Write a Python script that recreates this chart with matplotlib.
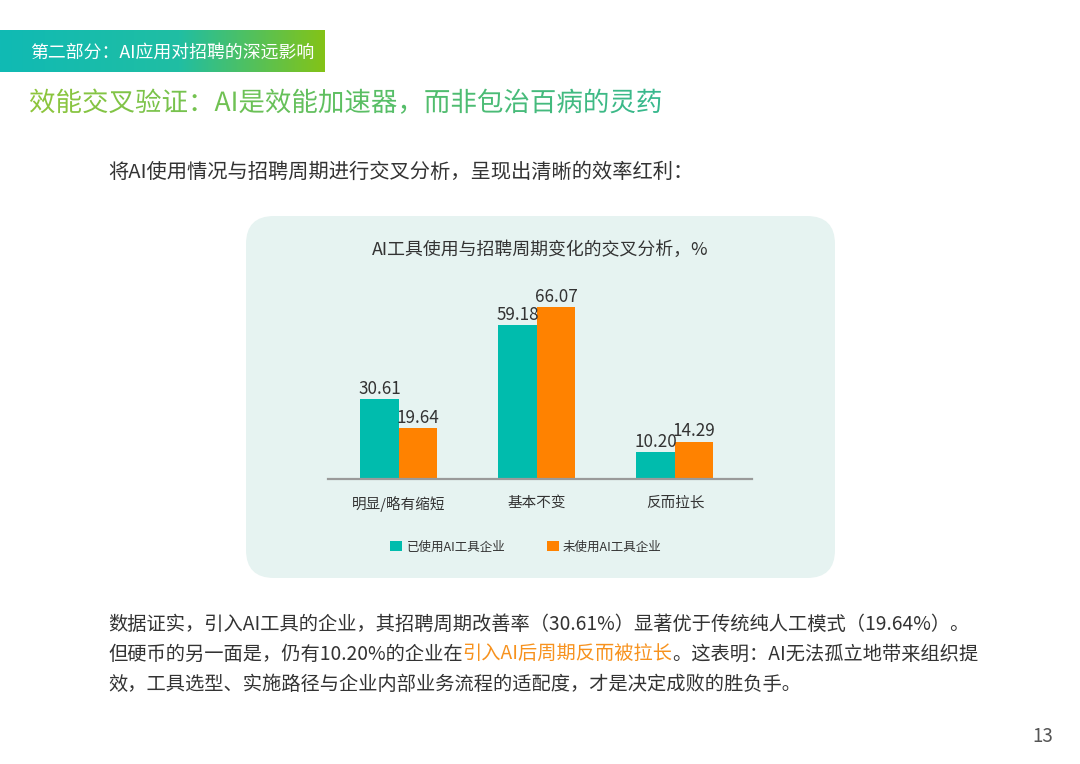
import numpy as np
import matplotlib
matplotlib.use('Agg')
import matplotlib.pyplot as plt
from matplotlib.colors import LinearSegmentedColormap
from matplotlib.patches import FancyBboxPatch, PathPatch, Patch
from matplotlib.textpath import TextPath
from matplotlib.font_manager import FontProperties
from matplotlib.transforms import Affine2D

plt.rcParams['font.family'] = ['Noto Sans CJK SC', 'DejaVu Sans']

# ---------- 数据 ----------
categories = ['明显/略有缩短', '基本不变', '反而拉长']
used_ai    = [30.61, 59.18, 10.20]
no_ai      = [19.64, 66.07, 14.29]
series     = ['已使用AI工具企业', '未使用AI工具企业']

section  = '第二部分：AI应用对招聘的深远影响'
heading  = '效能交叉验证：AI是效能加速器，而非包治百病的灵药'
intro    = '将AI使用情况与招聘周期进行交叉分析，呈现出清晰的效率红利：'
title    = 'AI工具使用与招聘周期变化的交叉分析，%'
line1    = '数据证实，引入AI工具的企业，其招聘周期改善率（30.61%）显著优于传统纯人工模式（19.64%）。'
line2    = ['但硬币的另一面是，仍有10.20%的企业在', '引入AI后周期反而被拉长', '。这表明：AI无法孤立地带来组织提']
line3    = '效，工具选型、实施路径与企业内部业务流程的适配度，才是决定成败的胜负手。'
page_no  = '13'

TEAL   = '#00bcad'
ORANGE = '#ff8200'
DARK   = '#333333'

fig = plt.figure(figsize=(10.8, 7.64), dpi=100)
fig.patch.set_facecolor('white')

# 背景层：像素坐标
bg = fig.add_axes([0, 0, 1, 1])
bg.set_axis_off()

# 卡片
panel = FancyBboxPatch((246, 216), 589, 362, boxstyle='round,pad=0,rounding_size=28',
                       facecolor='#e6f3f1', edgecolor='none', zorder=1)
bg.add_patch(panel)

# 顶部渐变条
bar_cmap = LinearSegmentedColormap.from_list(
    'hdr', [(0, '#10bab4'), (0.55, '#20bea3'), (1, '#84c317')])
grad = np.linspace(0, 1, 256).reshape(1, -1)
bg.imshow(grad, cmap=bar_cmap, extent=[0, 325, 72, 30], aspect='auto', zorder=2)
bg.text(30, 53, section, fontsize=12.9, color='white', va='center', ha='left', zorder=3)

# 渐变标题
fp = FontProperties(family='Noto Sans CJK SC')
tp = TextPath((0, 0), heading, size=26.5, prop=fp)
hpath = Affine2D().scale(1, -1).translate(29, 111).transform_path(tp)
hpatch = PathPatch(hpath, facecolor='none', edgecolor='none')
bg.add_patch(hpatch)
head_cmap = LinearSegmentedColormap.from_list('head', ['#8fc63c', '#5cbf62', '#36b88f'])
him = bg.imshow(grad, cmap=head_cmap, extent=[29, 668, 118, 85], aspect='auto', zorder=3)
him.set_clip_path(hpatch)

bg.text(108, 172, intro, fontsize=14.6, color=DARK, va='center', ha='left')

# 图表标题
bg.text(540, 250, title, fontsize=12.9, color=DARK, va='center', ha='center', zorder=3)

# 正文
fs = 13.85
bg.text(108, 624, line1, fontsize=fs, color=DARK, va='center', ha='left')
t = bg.text(108, 654, line2[0], fontsize=fs, color=DARK, va='center', ha='left')
t = bg.annotate(line2[1], xy=(1, 0.5), xycoords=t, va='center', ha='left',
                fontsize=fs, color='#f7921e')
bg.annotate(line2[2], xy=(1, 0.5), xycoords=t, va='center', ha='left',
            fontsize=fs, color=DARK)
bg.text(108, 685, line3, fontsize=fs, color=DARK, va='center', ha='left')

bg.text(1043, 737, page_no, fontsize=13.5, color='#555555', va='center', ha='center')

bg.set_xlim(0, 1080)
bg.set_ylim(764, 0)

# ---------- 柱状图 ----------
ax = fig.add_axes([328 / 1080, 1 - 479 / 764, 424 / 1080, 192 / 764])
ax.set_facecolor('none')
x = np.arange(len(categories))
w = 0.279
b1 = ax.bar(x - w / 2, used_ai, w, color=TEAL, zorder=2)
b2 = ax.bar(x + w / 2, no_ai, w, color=ORANGE, zorder=2)
ax.bar_label(b1, labels=[f'{v:.2f}' for v in used_ai], padding=1, fontsize=12.3, color=DARK)
ax.bar_label(b2, labels=[f'{v:.2f}' for v in no_ai], padding=1, fontsize=12.3, color=DARK)

ax.set_xlim(-0.514, 2.558)
ax.set_ylim(0, 73.8)
ax.set_xticks(x)
ax.set_xticklabels(categories, fontsize=10.5, color=DARK)
ax.tick_params(axis='x', length=0, pad=12)
ax.set_yticks([])
for s in ['top', 'right', 'left']:
    ax.spines[s].set_visible(False)
ax.spines['bottom'].set_color('#9a9a9a')
ax.spines['bottom'].set_linewidth(1.6)

handles = [Patch(facecolor=TEAL), Patch(facecolor=ORANGE)]
fig.legend(handles, series, loc='center', bbox_to_anchor=(526 / 1080, 1 - 547 / 764),
           ncol=2, frameon=False, fontsize=9, labelcolor=DARK,
           handlelength=0.95, handleheight=0.9, handletextpad=0.35, columnspacing=3.3)

fig.savefig('out.png', dpi=100, facecolor='white')
